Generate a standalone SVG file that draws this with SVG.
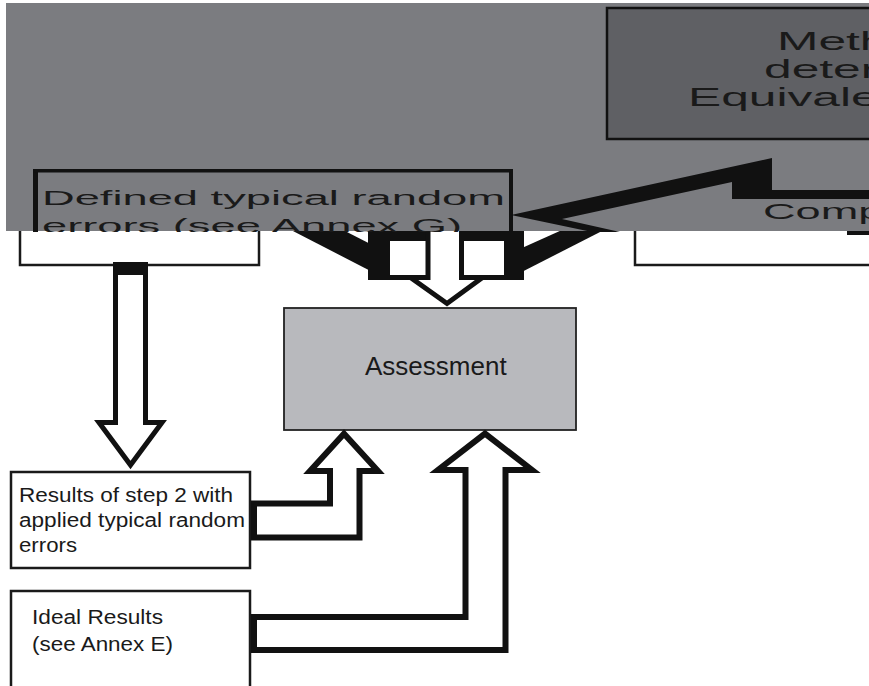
<svg xmlns="http://www.w3.org/2000/svg" width="869" height="686" viewBox="0 0 869 686">
<style>
.lbl{font-family:"Liberation Sans",Arial,Helvetica,sans-serif;fill:#1a1a1a}
.box{fill:#fff;stroke:#1a1a1a;stroke-width:2.5}
.arrow{fill:#fff;stroke:#111;stroke-linejoin:miter;stroke-miterlimit:10}
.blk{fill:#111}
</style>
<defs>
<clipPath id="band"><rect x="6" y="3" width="863" height="229"/></clipPath>
</defs>
<rect x="0" y="0" width="869" height="686" fill="#fff"/>

<g id="node-defined-errors">
<rect class="box" x="20" y="180" width="239" height="85"/>
</g>
<g id="node-comparison">
<rect class="box" x="635" y="180" width="260" height="85"/>
</g>
<g id="node-assessment">
<rect x="284" y="308" width="292" height="122" fill="#b8b9bd" stroke="#222" stroke-width="1.8"/>
<text class="lbl" x="365" y="375" font-size="26">Assessment</text>
</g>
<g id="node-results">
<rect class="box" x="11" y="472" width="239" height="96"/>
<text class="lbl" x="19" y="502" font-size="20" textLength="214" lengthAdjust="spacingAndGlyphs">Results of step 2 with</text>
<text class="lbl" x="19" y="527" font-size="20" textLength="226" lengthAdjust="spacingAndGlyphs">applied typical random</text>
<text class="lbl" x="19" y="552" font-size="20" textLength="58" lengthAdjust="spacingAndGlyphs">errors</text>
</g>
<g id="node-ideal">
<rect class="box" x="11" y="591" width="239" height="120"/>
<text class="lbl" x="32" y="624" font-size="20" textLength="131" lengthAdjust="spacingAndGlyphs">Ideal Results</text>
<text class="lbl" x="32" y="651" font-size="20" textLength="141" lengthAdjust="spacingAndGlyphs">(see Annex E)</text>
</g>

<g id="connectors">
<path class="arrow" stroke-width="5" d="M115.5 272 V422.5 H99 L130.5 465 L162 422.5 H145.5 V272"/>
<rect class="blk" x="113" y="262" width="35" height="13"/>

<polygon class="blk" points="291,230 343,230 390,254 390,280 388,280"/>
<rect class="blk" x="368" y="228" width="22" height="52"/>
<rect class="blk" x="368" y="228" width="64" height="13"/>
<rect class="blk" x="388" y="275" width="42" height="5"/>
<polygon class="blk" points="604,230 562,230 504,256 504,280 506,280"/>
<rect class="blk" x="504" y="228" width="20" height="52"/>
<rect class="blk" x="460" y="228" width="64" height="13"/>
<rect class="blk" x="462" y="275" width="44" height="5"/>
<path class="arrow" stroke-width="5" d="M428 226 V277.5 H410.5 L447 303.5 L482.5 277.5 H461.5 V226"/>

<path class="arrow" stroke-width="6" d="M254 503.5 H330 V471 H310 L344 433.7 L378 471 H359.5 V537.5 H254 Z"/>
<path class="arrow" stroke-width="6" d="M254 617 H465.5 V470 H438 L485 433.6 L532 470 H505.5 V650 H254 Z"/>
</g>

<g id="overlay" clip-path="url(#band)">
<rect x="6" y="3" width="863" height="228" fill="#7b7c80"/>
<g id="node-methods">
<rect x="607" y="8" width="280" height="131" fill="#5f6064" stroke="#111" stroke-width="2.5"/>
<text class="lbl" font-size="25.5" transform="translate(777,50) scale(1.95,1)">Meth</text>
<text class="lbl" font-size="25.5" transform="translate(764,78) scale(1.95,1)">deter</text>
<text class="lbl" font-size="25.5" transform="translate(688,106) scale(1.95,1)">Equivale</text>
</g>
<g id="node-defined-errors-zoom">
<rect class="blk" x="33" y="169" width="5" height="63"/>
<rect class="blk" x="33" y="169" width="480" height="3.5"/>
<rect class="blk" x="509" y="169" width="4" height="63"/>
<text class="lbl" font-size="21" transform="translate(42,205) scale(2.156,1)">Defined typical random</text>
<text class="lbl" font-size="21" transform="translate(42,233) scale(2.156,1)">errors (see Annex G)</text>
</g>
<g id="node-comparison-zoom">
<text class="lbl" font-size="22" transform="translate(763,219) scale(2.05,1)">Comp</text>
</g>
<polygon class="blk" points="511,215 772,158 772,190 869,190 869,199 732,199 732,182 562,219 620,232 592,232"/>
</g>
<rect class="blk" x="847" y="231" width="22" height="4"/>
</svg>
